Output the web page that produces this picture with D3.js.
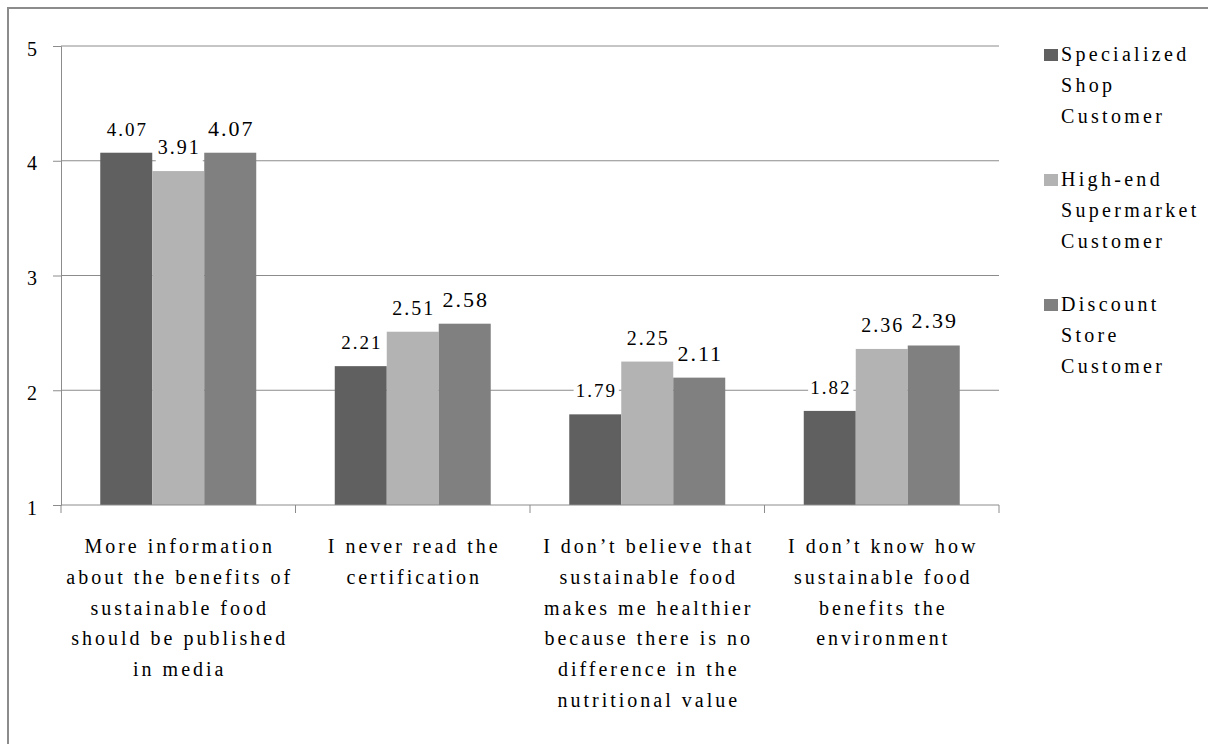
<!DOCTYPE html>
<html>
<head>
<meta charset="utf-8">
<script src="https://cdn.jsdelivr.net/npm/d3@7"></script>
<style>
  html, body { margin: 0; padding: 0; background: #fff; }
  svg { display: block; }
  svg text { font-family: "Liberation Serif", "Times New Roman", Tinos, "DejaVu Serif", serif; fill: #000; }
</style>
</head>
<body>
<svg id="chart" width="1208" height="744"></svg>
<script>
// Statements (each split into the lines shown under the axis)
const categories = [
  ["More information", "about the benefits of", "sustainable food", "should be published", "in media"],
  ["I never read the", "certification"],
  ["I don\u2019t believe that", "sustainable food", "makes me healthier", "because there is no", "difference in the", "nutritional value"],
  ["I don\u2019t know how", "sustainable food", "benefits the", "environment"]
];

// Customer groups (legend entries, each split into lines)
const seriesNames = [
  ["Specialized", "Shop", "Customer"],
  ["High-end", "Supermarket", "Customer"],
  ["Discount", "Store", "Customer"]
];

// Mean agreement scores per group
const specializedShop = [4.07, 2.21, 1.79, 1.82];
const highEndSupermarket = [3.91, 2.51, 2.25, 2.36];
const discountStore = [4.07, 2.58, 2.11, 2.39];

const yTicks = [1, 2, 3, 4, 5];

const seriesValues = [specializedShop, highEndSupermarket, discountStore];
const seriesColors = ["#606060", "#b3b3b3", "#808080"];
const labelSizes = [19, 20, 22];

const serif = '"Liberation Serif", "Times New Roman", Tinos, "DejaVu Serif", serif';
const lineColor = "#8c8c8c";

const svg = d3.select("#chart");

// Outer frame of the chart area
svg.append("rect")
  .attr("x", 8).attr("y", 8)
  .attr("width", 1240).attr("height", 780)
  .attr("fill", "none")
  .attr("stroke", lineColor)
  .attr("stroke-width", 2);

const plot = { left: 61, right: 999, top: 46, bottom: 505 };

const catIdx = categories.map((_, i) => i);
const x0 = d3.scaleBand().domain(catIdx).range([plot.left, plot.right]).padding(0);
const x1 = d3.scaleBand().domain([0, 1, 2]).range([0, x0.bandwidth()])
  .paddingInner(0).paddingOuter(0.755);
const y = d3.scaleLinear().domain([1, 5]).range([plot.bottom, plot.top]);

// Horizontal gridlines
svg.append("g")
  .selectAll("line")
  .data(yTicks.filter(t => t > 1))
  .join("line")
  .attr("x1", plot.left).attr("x2", plot.right)
  .attr("y1", d => y(d)).attr("y2", d => y(d))
  .attr("stroke", lineColor)
  .attr("stroke-width", 1);

// Y axis
const yAxis = svg.append("g")
  .attr("transform", `translate(${plot.left},0)`)
  .call(d3.axisLeft(y).tickValues(yTicks).tickSize(8).tickFormat(d3.format("d")));
yAxis.attr("font-family", null).attr("font-size", null);
yAxis.select(".domain").attr("stroke", lineColor);
yAxis.selectAll(".tick line").attr("stroke", lineColor);
yAxis.selectAll(".tick text")
  .attr("x", -24)
  .attr("dy", null)
  .attr("y", 9)
  .style("font-family", serif)
  .style("font-size", "20px")
  .attr("fill", "#000");

// Bars
const groups = svg.append("g")
  .selectAll("g")
  .data(catIdx)
  .join("g")
  .attr("transform", i => `translate(${x0(i)},0)`);

groups.selectAll("rect.bar")
  .data(i => seriesValues.map((vals, s) => ({ s, v: vals[i] })))
  .join("rect")
  .attr("class", "bar")
  .attr("x", d => x1(d.s))
  .attr("width", x1.bandwidth())
  .attr("y", d => y(d.v))
  .attr("height", d => y(1) - y(d.v))
  .attr("fill", d => seriesColors[d.s]);

// Value labels on white boxes
const vl = groups.selectAll("g.val")
  .data(i => seriesValues.map((vals, s) => ({ s, v: vals[i] })))
  .join("g")
  .attr("class", "val");
vl.append("rect").attr("fill", "#fff");
vl.append("text")
  .attr("x", d => x1(d.s) + x1.bandwidth() / 2 + 1)
  .attr("y", d => y(d.v) - 17)
  .attr("text-anchor", "middle")
  .style("font-family", serif)
  .style("font-size", d => labelSizes[d.s] + "px")
  .style("letter-spacing", "2px")
  .text(d => d3.format(".2f")(d.v));
vl.each(function (d) {
  const g = d3.select(this);
  const b = g.select("text").node().getBBox();
  g.select("rect")
    .attr("x", b.x - 2)
    .attr("y", b.y - 1)
    .attr("width", b.width + 4)
    .attr("height", Math.min(b.height + 5, y(d.v) - b.y));
});

// X axis line and category dividers
const xAxis = svg.append("g")
  .attr("transform", `translate(0,${plot.bottom})`);
xAxis.append("line")
  .attr("x1", plot.left).attr("x2", plot.right)
  .attr("stroke", lineColor);
xAxis.selectAll("line.tick")
  .data(d3.range(categories.length + 1))
  .join("line")
  .attr("class", "tick")
  .attr("x1", i => i < categories.length ? x0(i) : plot.right)
  .attr("x2", i => i < categories.length ? x0(i) : plot.right)
  .attr("y1", 0).attr("y2", 8)
  .attr("stroke", lineColor);

// Category labels
const catLabels = svg.append("g")
  .selectAll("text")
  .data(catIdx)
  .join("text")
  .attr("text-anchor", "middle")
  .style("font-family", serif)
  .style("font-size", "20px")
  .style("letter-spacing", "3px")
  .attr("transform", i => `translate(${x0(i) + x0.bandwidth() / 2 + 1.5},${plot.bottom + 48})`);
catLabels.selectAll("tspan")
  .data(i => categories[i])
  .join("tspan")
  .attr("x", 0)
  .attr("y", (d, k) => k * 30.8)
  .text(d => d);

// Legend
const legend = svg.append("g").attr("transform", "translate(1044,0)");
const legendTop = [49, 174, 299];
const item = legend.selectAll("g")
  .data(seriesNames.map((name, s) => ({ name, s })))
  .join("g")
  .attr("transform", d => `translate(0,${legendTop[d.s]})`);
item.append("rect")
  .attr("width", 14).attr("height", 12)
  .attr("fill", d => seriesColors[d.s]);
const lt = item.append("text")
  .attr("x", 17)
  .style("font-family", serif)
  .style("font-size", "20px")
  .style("letter-spacing", "3.3px");
lt.selectAll("tspan")
  .data(d => d.name)
  .join("tspan")
  .attr("x", 17)
  .attr("y", (d, k) => 12 + k * 31)
  .text(d => d);
</script>
</body>
</html>
